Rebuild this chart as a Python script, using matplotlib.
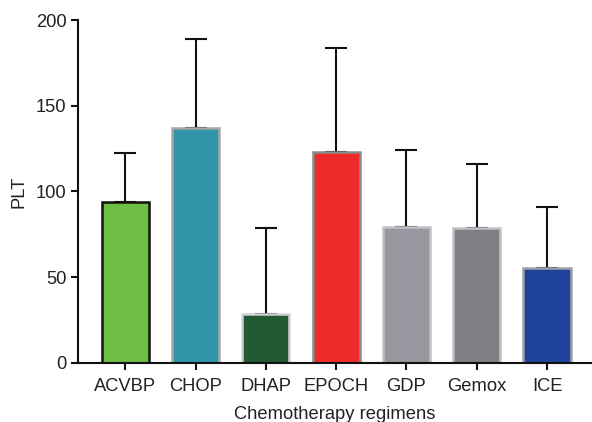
import matplotlib
matplotlib.use("Agg")
from matplotlib import pyplot as plt

plt.rcParams['font.family'] = ['Liberation Sans', 'DejaVu Sans']

regimens = ["ACVBP", "CHOP", "DHAP", "EPOCH", "GDP", "Gemox", "ICE"]
plt_mean = [93.7, 137.0, 28.4, 123.2, 79.1, 78.5, 55.2]
plt_upper = [122.3, 189.0, 78.7, 183.9, 124.4, 116.2, 91.1]
bar_colors = ["#6ebe44", "#3195a9", "#245a31", "#ee2a2a", "#97979f", "#808084", "#1f439b"]
edge_colors = ["#111111", "#a6a6a6", "#d0d0d8", "#8a8a8a", "#c0c0c6", "#c0c0c6", "#a0a0a8"]

err = [u - m for u, m in zip(plt_upper, plt_mean)]

fig = plt.figure(figsize=(5.92, 4.22), dpi=100)
ax = fig.add_axes([0.132, 0.14, 0.868, 0.8126])

x = list(range(len(regimens)))
ax.bar(x, plt_mean, width=0.67, color=bar_colors, edgecolor=edge_colors,
       linewidth=1.8, zorder=2)
ax.errorbar(x, plt_mean, yerr=[[0] * len(err), err], fmt='none',
            ecolor='#111111', elinewidth=1.5, capsize=8, capthick=1.5, zorder=1)

ax.set_xlim(-0.67, 6.64)
ax.set_ylim(0, 200)
ax.set_yticks([0, 50, 100, 150, 200])
ax.set_xticks(x)
ax.set_xticklabels(regimens)

for side in ['top', 'right']:
    ax.spines[side].set_visible(False)
for side in ['left', 'bottom']:
    ax.spines[side].set_linewidth(1.5)
    ax.spines[side].set_color('#111111')

ax.tick_params(axis='both', direction='out', length=5, width=1.5,
               color='#111111', labelsize=13.2, labelcolor='#222222')
ax.tick_params(axis='x', pad=6)
ax.set_xlabel("Chemotherapy regimens", fontsize=13.2, color='#222222', labelpad=8)
ax.set_ylabel("PLT", fontsize=13.2, color='#222222', labelpad=6)

fig.savefig("out.png", dpi=100)
